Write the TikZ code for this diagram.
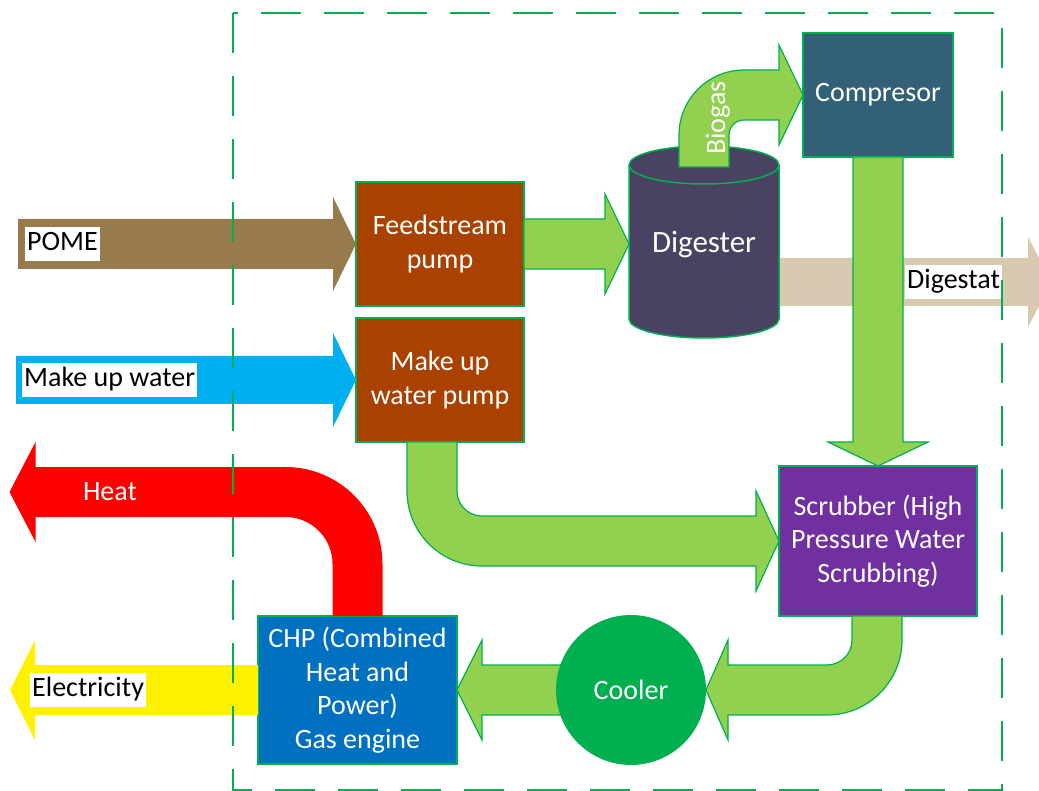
\documentclass[tikz,border=0pt]{standalone}
\usepackage{fontspec}
\setmainfont{Carlito}
\usetikzlibrary{positioning}

\definecolor{flowgreen}{HTML}{92D050}
\definecolor{edgegreen}{HTML}{00B050}
\definecolor{pumpbrown}{HTML}{A94100}
\definecolor{compteal}{HTML}{326077}
\definecolor{digpurple}{HTML}{494263}
\definecolor{scrubpurple}{HTML}{7030A0}
\definecolor{chpblue}{HTML}{0070C0}
\definecolor{pomebrown}{HTML}{977B4C}
\definecolor{watercyan}{HTML}{00B0F0}
\definecolor{digestatbeige}{HTML}{D8CAB1}

\begin{document}
\begin{tikzpicture}[x=1pt, y=-1pt,
  txt/.style = {font=\fontsize{28}{33.5}\selectfont},
  box/.style = {draw=edgegreen, line width=1.5pt, text=white, align=center, inner sep=0pt, outer sep=0pt, txt},
  flow/.style = {fill=flowgreen, draw=edgegreen, line width=1.2pt},
  tag/.style = {fill=white, text=black, inner xsep=2pt, inner ysep=3pt, text height=20.5pt, text depth=7pt, anchor=west, txt}]
  \clip (0,0) rectangle (1039,791);

  \node[box, fill=pumpbrown, minimum width=168pt, minimum height=124pt] (feed) at (440,244) {Feedstream\\pump};
  \node[box, fill=pumpbrown, minimum width=168pt, minimum height=124pt, below=12pt of feed] (mup) {Make up\\water pump};
  \node[box, fill=compteal, minimum width=150pt, minimum height=124pt] (comp) at (878,95) {Compresor};
  \node[box, fill=scrubpurple, minimum width=198pt, minimum height=150pt] (scrub) at (878,541) {Scrubber (High\\Pressure Water\\Scrubbing)};
  \node[box, fill=chpblue, minimum width=199pt, minimum height=148pt] (chp) at (357.5,690) {CHP (Combined\\Heat and\\Power)\\Gas engine};

  \coordinate (digin) at (629,244);
  \coordinate (digout) at (779,282);

  \fill[digestatbeige] (digout) ++(-40,-24) -- ++(289,0) -- ++(0,-21) -- ++(24,45) -- ++(-24,45) -- ++(0,-21) -- ++(-289,0) -- cycle;

  \filldraw[fill=digpurple, draw=edgegreen, line width=1.5pt] (629,165) -- (629,319) arc[start angle=180, end angle=0, x radius=75, y radius=19] -- (779,165) arc[start angle=0, end angle=-180, x radius=75, y radius=19] -- cycle;
  \draw[edgegreen, line width=1.5pt] (629,165) arc[start angle=180, end angle=0, x radius=75, y radius=19];
  \node[text=white, font=\fontsize{31}{36}\selectfont] (dig) at (704,245) {Digester};

  \filldraw[flow] (comp.west) -- ++(-24,-50) -- ++(0,25) -- ++(-35,0) arc[start angle=-90, end angle=-180, radius=65] -- ++(0,32) -- ++(50,0) -- ++(0,-32) arc[start angle=180, end angle=270, radius=15] -- ++(35,0) -- ++(0,25) -- cycle;
  \node[rotate=90, text=white, txt] (biogas) at (718,118) {Biogas};

  \filldraw[flow] (feed.east) ++(0,-25) -- ++(81,0) -- ++(0,-25) -- (digin) -- ++(-24,50) -- ++(0,-25) -- ++(-81,0) -- cycle;
  \filldraw[flow] (comp.south) ++(-25,0) -- ++(0,285) -- ++(-25,0) -- (scrub.north) -- ++(50,-24) -- ++(-25,0) -- ++(0,-285) -- cycle;
  \filldraw[flow] (mup.south) ++(-33,0) -- ++(0,49) arc[start angle=180, end angle=90, radius=75] -- ++(274,0) -- ++(0,25) -- (scrub.west) -- ++(-23,-50) -- ++(0,25) -- ++(-274,0) arc[start angle=90, end angle=180, radius=25] -- ++(0,-49) -- cycle;
  \node[tag] (digestat) at (905,282) {Digestat};

  \fill[pomebrown] (feed.west) -- ++(-23,-47) -- ++(0,22) -- ++(-315,0) -- ++(0,50) -- ++(315,0) -- ++(0,22) -- cycle;
  \fill[watercyan] (mup.west) -- ++(-23,-47) -- ++(0,23) -- ++(-317,0) -- ++(0,48) -- ++(317,0) -- ++(0,23) -- cycle;
  \node[tag] (pome) at (25,244) {POME};
  \node[tag] (water) at (22,380) {Make up water};

  \filldraw[flow] (chp.east) -- ++(25,-50) -- ++(0,25) -- ++(100,0) -- ++(0,50) -- ++(-100,0) -- ++(0,25) -- cycle;
  \node[circle, fill=edgegreen, minimum size=150pt, inner sep=0pt, outer sep=0pt, text=white, txt] (cool) at (631,690) {Cooler};
  \filldraw[flow] (scrub.south) ++(24,0) -- ++(0,24) arc[start angle=0, end angle=90, radius=75] -- ++(-99,0) -- ++(0,25) -- (cool.east) -- ++(22,-50) -- ++(0,25) -- ++(99,0) arc[start angle=90, end angle=0, radius=25] -- ++(0,-24) -- cycle;

  \fill[red] (chp.north) ++(25,0) -- ++(0,-52) arc[start angle=0, end angle=-90, radius=97] -- ++(-250,0) -- ++(0,-25) -- ++(-26,50) -- ++(26,50) -- ++(0,-25) -- ++(250,0) arc[start angle=-90, end angle=0, radius=47] -- ++(0,52) -- cycle;
  \fill[yellow] (chp.west) ++(0,-25) -- ++(-223,0) -- ++(0,-25) -- ++(-25,50) -- ++(25,50) -- ++(0,-25) -- ++(223,0) -- cycle;
  \node[text=white, txt] (heat) at (110,492) {Heat};
  \node[tag] (elec) at (30,690) {Electricity};

  \draw[edgegreen, line width=2.5pt, dash pattern=on 40pt off 23pt] (233,13) rectangle (1002,790);
\end{tikzpicture}
\end{document}
